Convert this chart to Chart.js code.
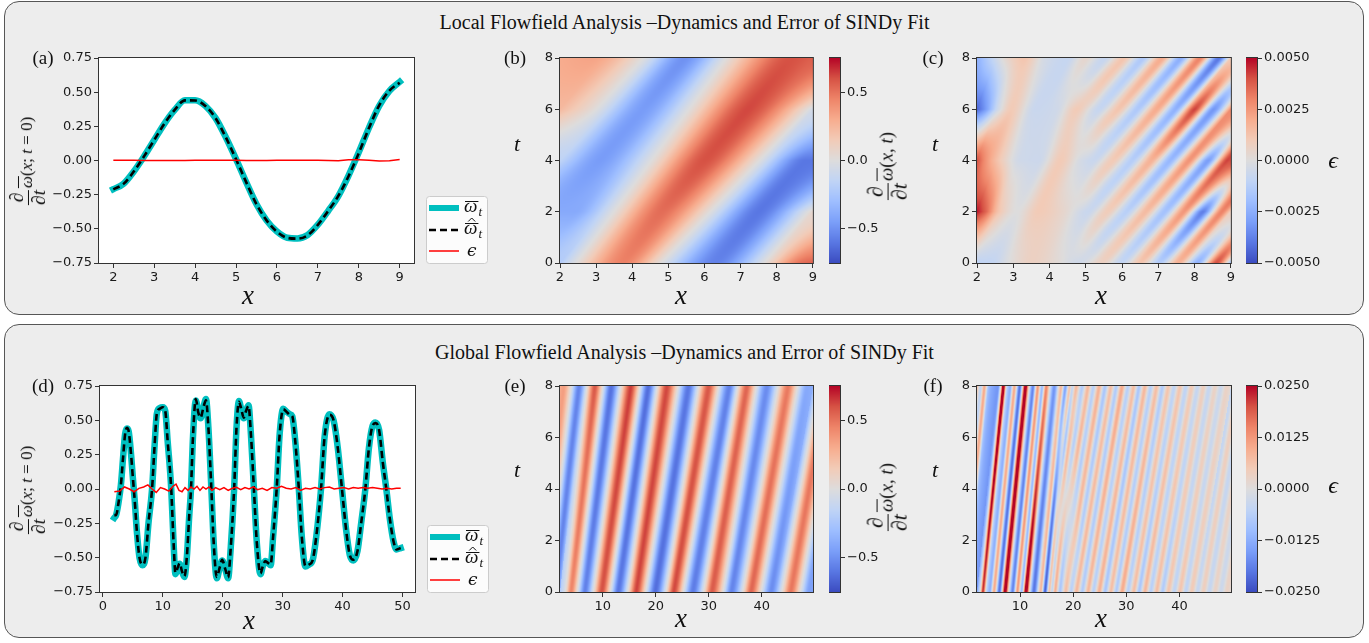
<!DOCTYPE html>
<html>
<head>
<meta charset="utf-8">
<title>SINDy fit</title>
<script src="https://cdn.jsdelivr.net/npm/chart.js@4.4.1/dist/chart.umd.min.js"></script>
<style>
  body { margin: 0; width: 1369px; height: 643px; position: relative; overflow: hidden; background: #fff; }
  .panel { position: absolute; left: 4px; width: 1360px; height: 314px; box-sizing: border-box; border: 1.3px solid #565656; border-radius: 15px; background: #ededed; }
  .title { position: absolute; left: 0; width: 1369px; text-align: center; font: 20px 'Liberation Serif', serif; color: #111; line-height: 24px; }
  .lbl { position: absolute; transform: translate(-50%, -50%); font-family: 'Liberation Serif', 'DejaVu Serif', serif; color: #111; white-space: nowrap; line-height: 1; }
  .lbl.rot { transform: translate(-50%, -50%) rotate(-90deg); }
  canvas { position: absolute; }
  .frac { display: inline-block; vertical-align: middle; text-align: center; font-size: 1.15em; margin-right: 2px; }
  .frac > span { display: block; line-height: 1.05; }
  .frac .num { border-bottom: 1px solid #111; padding: 0 2px; }
  .ov { display: inline-block; border-top: 1px solid #111; line-height: 0.8; padding-top: 1px; font-style: italic; }
</style>
</head>
<body>
<div class="panel" style="top:1px"></div>
<div class="panel" style="top:324px"></div>
<script>
// ---------------- data ----------------
const localTitle = 'Local Flowfield Analysis \u2013Dynamics and Error of SINDy Fit';
const globalTitle = 'Global Flowfield Analysis \u2013Dynamics and Error of SINDy Fit';

// (a) local profile at t = 0
const aX = [2.0,2.25,2.5,2.75,3.0,3.25,3.5,3.75,4.0,4.25,4.5,4.75,5.0,5.25,5.5,5.75,6.0,6.25,6.5,6.75,7.0,7.25,7.5,7.75,8.0,8.25,8.5,8.75,9.0];
const aOmega = [-0.21,-0.17,-0.08,0.03,0.15,0.27,0.37,0.44,0.44,0.40,0.31,0.17,0.01,-0.16,-0.32,-0.44,-0.52,-0.565,-0.57,-0.545,-0.47,-0.37,-0.26,-0.11,0.06,0.24,0.40,0.51,0.575];
const aOmegaFit = [-0.211,-0.171,-0.081,0.03,0.15,0.27,0.37,0.44,0.439,0.399,0.309,0.169,0.009,-0.16,-0.32,-0.44,-0.521,-0.566,-0.572,-0.547,-0.471,-0.37,-0.259,-0.115,0.054,0.238,0.404,0.512,0.569];
const aErr = [0.001,0.001,0.001,0.0,0.0,0.0,0.0,0.0,0.001,0.001,0.001,0.001,0.001,0.0,0.0,0.0,0.001,0.001,0.002,0.002,0.001,0.0,-0.001,0.005,0.006,0.002,-0.004,-0.002,0.007];

// (d) global profile at t = 0
const dX = [1.9,2.2,2.6,3.0,3.4,3.7,4.0,4.3,4.7,5.0,5.3,5.7,6.1,6.6,7.1,7.6,8.2,8.6,9.0,9.5,10.0,10.4,10.8,11.4,11.8,12.1,12.5,12.8,13.2,13.6,14.0,14.4,14.7,15.0,15.5,15.9,16.3,16.8,17.2,17.6,18.1,18.5,19.0,19.5,19.9,20.4,20.9,21.3,21.9,22.3,22.7,23.1,23.5,23.9,24.3,24.7,25.2,25.7,26.3,26.7,27.1,27.6,28.0,28.4,29.0,29.5,30.1,30.6,31.2,31.6,32.1,32.7,33.2,33.8,34.4,35.0,35.6,36.4,37.0,37.8,38.5,39.2,39.9,40.6,41.2,41.8,42.5,43.1,43.8,44.4,45.0,45.5,46.1,46.7,47.3,47.9,48.5,49.0,49.7];
const dOmega = [-0.21,-0.19,-0.10,0.03,0.25,0.40,0.44,0.42,0.25,0.08,-0.08,-0.33,-0.50,-0.555,-0.50,-0.25,0.00,0.30,0.55,0.59,0.595,0.57,0.35,0.00,-0.40,-0.62,-0.58,-0.545,-0.60,-0.64,-0.50,-0.20,0.00,0.35,0.645,0.57,0.515,0.60,0.655,0.45,0.00,-0.40,-0.65,-0.57,-0.52,-0.58,-0.65,-0.45,0.00,0.45,0.64,0.58,0.515,0.57,0.61,0.40,0.00,-0.40,-0.62,-0.56,-0.525,-0.54,-0.555,-0.35,0.00,0.40,0.585,0.565,0.545,0.53,0.35,0.00,-0.35,-0.565,-0.55,-0.52,-0.35,0.00,0.38,0.545,0.50,0.30,0.00,-0.30,-0.48,-0.52,-0.45,-0.25,0.00,0.30,0.46,0.485,0.43,0.20,0.00,-0.22,-0.38,-0.44,-0.43];
const dOmegaFit = [-0.19,-0.19,-0.10,0.03,0.25,0.40,0.445,0.42,0.25,0.08,-0.08,-0.33,-0.50,-0.55,-0.50,-0.25,0.00,0.30,0.55,0.585,0.595,0.57,0.35,0.00,-0.40,-0.61,-0.57,-0.54,-0.60,-0.635,-0.50,-0.20,0.00,0.35,0.655,0.56,0.52,0.60,0.645,0.45,0.00,-0.40,-0.64,-0.57,-0.515,-0.58,-0.645,-0.45,0.00,0.45,0.635,0.58,0.52,0.57,0.605,0.40,0.00,-0.40,-0.615,-0.56,-0.525,-0.54,-0.55,-0.35,0.00,0.40,0.58,0.565,0.54,0.53,0.35,0.00,-0.35,-0.56,-0.55,-0.52,-0.35,0.00,0.38,0.54,0.50,0.30,0.00,-0.30,-0.48,-0.515,-0.45,-0.25,0.00,0.30,0.46,0.48,0.43,0.20,0.00,-0.22,-0.38,-0.44,-0.43];
const dErrX = [1.9,2.8,3.6,4.4,5.2,6.0,6.8,7.5,8.2,8.9,9.6,10.3,11.0,11.7,12.2,12.7,13.2,13.7,14.2,14.7,15.2,15.7,16.2,16.7,17.2,17.7,18.2,18.8,19.5,20.2,20.9,21.6,22.3,23.0,23.7,24.4,25.1,25.8,26.6,27.4,28.2,29.0,29.8,30.6,31.4,32.2,33.0,33.8,34.6,35.4,36.2,37.0,37.8,38.6,39.4,40.2,41.0,41.8,42.6,43.4,44.2,45.0,45.8,46.6,47.4,48.2,49.0,49.7];
const dErr = [-0.02,-0.015,0.015,0.0,-0.02,0.005,0.015,0.03,0.0,-0.025,0.01,0.0,-0.015,0.02,0.035,-0.01,-0.02,0.01,-0.01,0.015,0.0,0.02,-0.01,0.015,0.0,0.015,-0.01,0.01,-0.005,0.01,-0.01,0.005,0.012,-0.005,0.01,0.0,0.015,-0.005,0.005,-0.01,0.01,0.005,0.02,0.005,0.0,0.01,-0.01,0.005,0.0,0.01,0.0,0.01,0.015,0.0,0.005,0.01,0.0,0.01,0.005,0.01,0.005,0.01,0.005,0.0,0.005,0.0,0.005,0.005];

// heat maps: rows of [x, value] read along t = const, drift = band tilt (x per unit t)
const bT = [0, 2, 4, 6, 8];
const bRows = [
  [[2,-0.21],[2.45,0],[3.75,0.46],[4.8,0],[6.3,-0.56],[7.65,0],[8.7,0.52],[9,0.55]],
  [[2,-0.40],[2.4,-0.40],[3.49,0],[4.8,0.52],[6.16,0],[7.5,-0.6],[8.87,0],[9,0.06]],
  [[2,-0.15],[3.1,-0.46],[4.53,0],[6.0,0.6],[7.52,0],[8.8,-0.6],[9,-0.6]],
  [[2,0.24],[3.01,0],[4.3,-0.46],[5.57,0],[7.2,0.62],[8.88,0],[9,-0.06]],
  [[2,0.30],[2.9,0.33],[4.3,0],[5.45,-0.5],[6.6,0],[8.4,0.6],[9,0.56]]
];
const bDrift = [[2,0.6],[9,0.6]];

const cT = [0, 2, 4, 6, 8];
const cRows = [
  [[2.0,-0.0010],[2.4,-0.0009],[2.9,0.0],[3.5,0.0007],[4.2,0.0002],[4.8,-0.0005],[5.45,0.0007],[5.975,-0.0009],[6.5,0.0012],[7.025,-0.0014],[7.55,0.0018],[8.075,-0.0024],[8.6,0.0040],[9.0,-0.0018]],
  [[2.0,0.0048],[2.25,0.0036],[2.6,0.0012],[3.1,0.0],[3.7,0.0010],[4.4,0.0004],[5.075,-0.0007],[5.6,0.0009],[6.125,-0.0012],[6.65,0.0015],[7.175,-0.0018],[7.7,0.0025],[8.225,-0.0038],[8.75,0.0030],[9.0,0.0008]],
  [[2.0,0.0040],[2.25,0.0026],[2.7,0.0008],[3.2,-0.0005],[3.7,-0.0006],[4.3,0.0010],[4.9,-0.0004],[5.225,-0.0007],[5.75,0.0010],[6.275,-0.0013],[6.8,0.0018],[7.325,-0.0022],[7.85,0.0026],[8.375,-0.0030],[8.9,0.0042],[9.0,0.0040]],
  [[2.0,-0.0044],[2.25,-0.0030],[2.6,-0.0004],[2.95,0.0010],[3.6,-0.0007],[4.2,-0.0005],[4.75,0.0010],[5.375,-0.0008],[5.9,0.0012],[6.425,-0.0015],[6.95,0.0020],[7.475,-0.0024],[8.0,0.0042],[8.525,-0.0032],[9.0,0.0028]],
  [[2.0,-0.0025],[2.4,-0.0010],[2.9,0.0006],[3.3,0.0012],[3.9,-0.0004],[4.5,-0.0008],[5.0,0.0004],[5.525,-0.0008],[6.05,0.0012],[6.575,-0.0015],[7.1,0.0020],[7.625,-0.0025],[8.15,0.0030],[8.675,-0.0040],[9.0,0.0010]]
];
const cDrift = [[2,0.25],[4.5,0.35],[5.5,0.6],[9,0.6]];

const eT = [0, 8];
const eRows = [
  [[1.9,-0.21],[2.9,0],[4.0,0.44],[5.2,0],[6.6,-0.56],[8.2,0],[9.8,0.6],[11.4,0],[12.9,-0.6],[14.7,0],[16.3,0.63],[18.1,0],[19.9,-0.63],[21.9,0],[23.4,0.62],[25.2,0],[27.0,-0.58],[29.0,0],[30.6,0.57],[32.7,0],[34.3,-0.55],[36.4,0],[38.0,0.54],[39.9,0],[41.8,-0.52],[43.8,0],[45.5,0.49],[47.3,0],[49.0,-0.44],[49.7,-0.43]],
  [[1.9,0.30],[2.6,0.35],[4.0,0],[5.5,-0.55],[7.0,0],[8.5,0.58],[10.0,0],[11.6,-0.62],[13.4,0],[15.3,0.64],[17.0,0],[18.6,-0.63],[20.3,0],[22.1,0.62],[24.2,0],[26.2,-0.60],[28.1,0],[30.0,0.58],[31.9,0],[33.9,-0.56],[35.5,0],[37.2,0.54],[39.0,0],[41.0,-0.52],[43.1,0],[45.0,0.48],[46.8,0],[48.6,-0.40],[49.7,-0.38]]
];
const eDrift = [[2,0.55],[10,0.65],[18,0.72],[26,0.8],[34,0.83],[45,0.87],[50,0.87]];

const fT = [0, 8];
const fRows = [
  [[1.9,-0.014],[2.5,0.0],[3.0,0.022],[3.7,-0.005],[4.3,-0.012],[5.1,0.010],[6.1,-0.020],[7.2,0.028],[7.9,0.0],[8.6,-0.018],[9.5,0.012],[10.3,-0.010],[11.1,0.030],[11.9,-0.004],[12.6,-0.020],[13.9,0.008],[14.7,-0.022],[15.5,0.006],[16.0,-0.004],[16.6,0.009],[17.5,-0.008],[18.6,0.007],[19.6,-0.006],[20.6,0.008],[21.7,-0.007],[22.8,0.008],[23.8,-0.006],[24.9,0.009],[26.0,-0.008],[27.1,0.007],[28.1,-0.007],[29.2,0.010],[30.3,-0.006],[31.4,0.007],[32.4,-0.008],[33.5,0.008],[34.6,-0.006],[35.7,0.007],[36.8,-0.007],[37.9,0.006],[39.0,-0.005],[40.1,0.006],[41.2,-0.005],[42.3,0.005],[43.4,-0.004],[44.5,0.004],[45.6,-0.004],[46.7,0.003],[47.8,-0.003],[48.9,0.003],[49.7,0.001]],
  [[1.9,0.008],[2.6,-0.005],[3.3,0.010],[4.1,-0.010],[4.9,-0.014],[5.85,-0.016],[6.35,0.0],[6.85,0.030],[7.55,-0.005],[8.15,-0.012],[8.95,0.010],[9.95,-0.020],[11.05,0.028],[11.75,0.0],[12.45,-0.018],[13.35,0.012],[14.15,-0.010],[14.95,0.014],[15.75,-0.004],[16.45,-0.016],[17.75,0.008],[18.55,-0.014],[19.35,0.006],[19.85,-0.004],[20.6,0.008],[21.7,-0.007],[22.8,0.008],[23.8,-0.006],[24.9,0.009],[26.0,-0.008],[27.1,0.007],[28.1,-0.007],[29.2,0.010],[30.3,-0.006],[31.4,0.007],[32.4,-0.008],[33.5,0.008],[34.6,-0.006],[35.7,0.007],[36.8,-0.007],[37.9,0.006],[39.0,-0.005],[40.1,0.006],[41.2,-0.005],[42.3,0.005],[43.4,-0.004],[44.5,0.004],[45.6,-0.004],[46.7,0.003],[47.8,-0.003],[48.9,0.003],[49.7,0.001]]
];
const fDrift = [[2,0.48],[16,0.48],[22,0.81],[50,0.81]];

// ticks
const lineYTicks = [-0.75,-0.5,-0.25,0,0.25,0.5,0.75];
const localXTicks = [2,3,4,5,6,7,8,9];
const globalLineXTicks = [0,10,20,30,40,50];
const globalMapXTicks = [10,20,30,40];
const tTicks = [0,2,4,6,8];
const fieldCbTicks = [-0.5,0,0.5];
const localErrCbTicks = [-0.005,-0.0025,0,0.0025,0.005];
const globalErrCbTicks = [-0.025,-0.0125,0,0.0125,0.025];

// ---------------- helpers ----------------
const coolwarmStops = [[59,76,192],[89,119,227],[123,159,249],[158,190,255],[192,212,245],[221,220,220],[242,203,183],[247,172,142],[238,132,104],[214,82,68],[180,4,38]];
function coolwarm(u) {
  u = Math.max(0, Math.min(1, u));
  const p = u * 10, i = Math.min(9, Math.floor(p)), f = p - i;
  const a = coolwarmStops[i], b = coolwarmStops[i + 1];
  return [a[0] + (b[0] - a[0]) * f, a[1] + (b[1] - a[1]) * f, a[2] + (b[2] - a[2]) * f];
}

function prepRow(knots) {
  const xs = knots.map(k => k[0]), ys = knots.map(k => k[1]), n = xs.length;
  const h = [], d = [], m = new Array(n);
  for (let k = 0; k < n - 1; k++) { h.push(xs[k + 1] - xs[k]); d.push((ys[k + 1] - ys[k]) / h[k]); }
  m[0] = d[0]; m[n - 1] = d[n - 2];
  for (let k = 1; k < n - 1; k++) {
    if (d[k - 1] * d[k] <= 0) m[k] = 0;
    else {
      const w1 = 2 * h[k] + h[k - 1], w2 = h[k] + 2 * h[k - 1];
      m[k] = (w1 + w2) / (w1 / d[k - 1] + w2 / d[k]);
    }
  }
  return { xs, ys, h, m };
}

function rowAt(r, x, clamp) {
  const xs = r.xs, n = xs.length;
  if (x < xs[0] || x > xs[n - 1]) {
    if (!clamp) return null;
    x = Math.max(xs[0], Math.min(xs[n - 1], x));
  }
  let lo = 0, hi = n - 2;
  while (lo < hi) { const mid = (lo + hi + 1) >> 1; if (xs[mid] <= x) lo = mid; else hi = mid - 1; }
  const k = lo, hk = r.h[k], s = (x - xs[k]) / hk;
  const s2 = s * s, s3 = s2 * s;
  return (2 * s3 - 3 * s2 + 1) * r.ys[k] + (s3 - 2 * s2 + s) * hk * r.m[k] +
         (-2 * s3 + 3 * s2) * r.ys[k + 1] + (s3 - s2) * hk * r.m[k + 1];
}

function driftAt(knots, x) {
  if (x <= knots[0][0]) return knots[0][1];
  for (let k = 0; k < knots.length - 1; k++) {
    if (x <= knots[k + 1][0]) {
      const f = (x - knots[k][0]) / (knots[k + 1][0] - knots[k][0]);
      return knots[k][1] + (knots[k + 1][1] - knots[k][1]) * f;
    }
  }
  return knots[knots.length - 1][1];
}

function fieldAt(f, x, t) {
  const ts = f.t; let k = 0;
  while (k < ts.length - 2 && t > ts[k + 1]) k++;
  const t0 = ts[k], t1 = ts[k + 1];
  const w = Math.min(1, Math.max(0, (t - t0) / (t1 - t0)));
  const d = driftAt(f.drift, x);
  const va = rowAt(f.rows[k], x - d * (t - t0), f.clamp);
  const vb = rowAt(f.rows[k + 1], x + d * (t1 - t), f.clamp);
  if (va === null && vb === null) return rowAt(f.rows[w < 0.5 ? k : k + 1], x, true);
  if (va === null) return vb;
  if (vb === null) return va;
  return va * (1 - w) + vb * w;
}

const fmt = dec => v => (v < 0 ? '\u2212' : '') + Math.abs(v).toFixed(dec);

function linAxis(min, max, ticks, f, size, isY, extra) {
  return Object.assign({
    type: 'linear', min, max,
    afterBuildTicks: s => { s.ticks = ticks.map(v => ({ value: v })); },
    afterFit: s => { if (isY) s.width = size; else s.height = size; },
    ticks: { callback: v => f(v), font: { family: 'DejaVu Sans', size: 13 }, color: '#1a1a1a', padding: 2, autoSkip: false, maxRotation: 0 },
    grid: { drawOnChartArea: false, drawTicks: true, tickLength: 5, color: '#333', lineWidth: 1 },
    border: { display: false }
  }, extra || {});
}

function makeCanvas(left, top, w, h) {
  const c = document.createElement('canvas');
  c.width = w; c.height = h;
  c.style.left = left + 'px'; c.style.top = top + 'px';
  c.style.width = w + 'px'; c.style.height = h + 'px';
  document.body.appendChild(c);
  return c;
}

function addLabel(html, cx, cy, size, extra) {
  const el = document.createElement('div');
  el.className = 'lbl' + (extra && extra.rot ? ' rot' : '');
  el.style.left = cx + 'px'; el.style.top = cy + 'px';
  el.style.fontSize = size + 'px';
  if (extra && extra.italic) el.style.fontStyle = 'italic';
  el.innerHTML = html;
  document.body.appendChild(el);
}

function addTitle(text, top) {
  const el = document.createElement('div');
  el.className = 'title'; el.style.top = top + 'px'; el.textContent = text;
  document.body.appendChild(el);
}

const framePlugin = {
  id: 'frame',
  afterDraw(chart) {
    const a = chart.chartArea, ctx = chart.ctx;
    ctx.save(); ctx.strokeStyle = '#333'; ctx.lineWidth = 1;
    ctx.strokeRect(a.left - 0.5, a.top - 0.5, a.right - a.left + 1, a.bottom - a.top + 1);
    ctx.restore();
  }
};

const whiteBg = {
  id: 'whiteBg',
  beforeDraw(chart) {
    const a = chart.chartArea;
    chart.ctx.save(); chart.ctx.fillStyle = '#fff';
    chart.ctx.fillRect(a.left, a.top, a.right - a.left, a.bottom - a.top);
    chart.ctx.restore();
  }
};

function drawOmega(ctx, x, y, hat) {
  ctx.font = 'italic 19px "Liberation Serif"';
  ctx.fillStyle = '#111'; ctx.textBaseline = 'alphabetic';
  const w = ctx.measureText('\u03c9').width;
  ctx.fillText('\u03c9', x, y + 4);
  ctx.strokeStyle = '#111'; ctx.lineWidth = 1; ctx.setLineDash([]);
  ctx.beginPath(); ctx.moveTo(x + 1, y - 6.5); ctx.lineTo(x + w + 1, y - 6.5); ctx.stroke();
  if (hat) {
    const cx = x + w / 2 + 1;
    ctx.beginPath(); ctx.moveTo(cx - 3.5, y - 8.5); ctx.lineTo(cx, y - 12); ctx.lineTo(cx + 3.5, y - 8.5); ctx.stroke();
  }
  ctx.font = 'italic 13px "Liberation Serif"';
  ctx.fillText('t', x + w + 1, y + 8);
}

const legendPlugin = {
  id: 'fitLegend',
  afterDraw(chart) {
    const a = chart.chartArea, ctx = chart.ctx;
    const bw = 61, bh = 67, bx = Math.round(a.right) + 12, by = Math.round(a.bottom) - bh;
    ctx.save();
    ctx.beginPath();
    if (ctx.roundRect) ctx.roundRect(bx + 0.5, by + 0.5, bw, bh, 3); else ctx.rect(bx + 0.5, by + 0.5, bw, bh);
    ctx.fillStyle = 'rgba(255,255,255,0.8)'; ctx.fill();
    ctx.strokeStyle = '#cccccc'; ctx.lineWidth = 1; ctx.stroke();
    const x0 = bx + 3, x1 = bx + 33, tx = bx + 38, ys = [by + 12, by + 34, by + 55];
    const handle = (y, color, lw, dash) => {
      ctx.beginPath(); ctx.setLineDash(dash); ctx.strokeStyle = color; ctx.lineWidth = lw;
      ctx.moveTo(x0, y); ctx.lineTo(x1, y); ctx.stroke(); ctx.setLineDash([]);
    };
    handle(ys[0], '#00bfbf', 6, []);
    handle(ys[1], '#000', 2.6, [7, 4]);
    handle(ys[2], '#ff0000', 1.5, []);
    drawOmega(ctx, tx, ys[0], false);
    drawOmega(ctx, tx, ys[1], true);
    ctx.font = 'italic 17px "DejaVu Serif"'; ctx.fillStyle = '#111';
    ctx.fillText('\u03f5', tx + 3, ys[2] + 5);
    ctx.restore();
  }
};

function heatmapPlugin(field, vmin, vmax) {
  return {
    id: 'heatmap',
    beforeDatasetsDraw(chart) {
      const a = chart.chartArea, xs = chart.scales.x, ys = chart.scales.y, ctx = chart.ctx;
      const L = Math.round(a.left), T = Math.round(a.top);
      const W = Math.round(a.right) - L, H = Math.round(a.bottom) - T;
      const img = ctx.createImageData(W, H);
      const xv = [];
      for (let i = 0; i < W; i++) xv.push(xs.getValueForPixel(L + i + 0.5));
      for (let j = 0; j < H; j++) {
        const t = ys.getValueForPixel(T + j + 0.5);
        for (let i = 0; i < W; i++) {
          const v = fieldAt(field, xv[i], t);
          const c = coolwarm((v - vmin) / (vmax - vmin));
          const idx = (j * W + i) * 4;
          img.data[idx] = c[0]; img.data[idx + 1] = c[1]; img.data[idx + 2] = c[2]; img.data[idx + 3] = 255;
        }
      }
      ctx.putImageData(img, L, T);
    }
  };
}

function colorbarPlugin() {
  return {
    id: 'colorbar',
    beforeDatasetsDraw(chart) {
      const a = chart.chartArea, ys = chart.scales.y, ctx = chart.ctx;
      const lo = ys.min, hi = ys.max;
      for (let y = Math.round(a.top); y < Math.round(a.bottom); y++) {
        const v = ys.getValueForPixel(y + 0.5);
        const c = coolwarm((v - lo) / (hi - lo));
        ctx.fillStyle = 'rgb(' + c.map(Math.round).join(',') + ')';
        ctx.fillRect(a.left, y, a.right - a.left, 1);
      }
    }
  };
}

const baseOptions = pad => ({
  responsive: false, animation: false, devicePixelRatio: 1, events: [],
  layout: { autoPadding: false, padding: pad },
  plugins: { legend: { display: false }, tooltip: { enabled: false } }
});

const pts = (xs, ys) => xs.map((x, i) => ({ x, y: ys[i] }));

// ---------------- charts ----------------
const YW = 70, XH = 30, TOPPAD = 12;

function lineChart(rect, xMin, xMax, xTicks, x, omega, fit, errX, err) {
  const R = 80;
  const c = makeCanvas(rect.l - YW, rect.t - TOPPAD, YW + rect.w + R, TOPPAD + rect.h + XH);
  new Chart(c, {
    type: 'line',
    data: { datasets: [
      { data: pts(errX, err), borderColor: '#ff0000', borderWidth: 1.5, pointRadius: 0, tension: 0, order: 1 },
      { data: pts(x, fit), borderColor: '#000000', borderWidth: 2.6, borderDash: [7, 4], pointRadius: 0, cubicInterpolationMode: 'monotone', order: 2 },
      { data: pts(x, omega), borderColor: '#00bfbf', borderWidth: 6.5, borderCapStyle: 'square', pointRadius: 0, cubicInterpolationMode: 'monotone', order: 3 }
    ] },
    options: Object.assign(baseOptions({ left: 0, top: TOPPAD, right: R, bottom: 0 }), {
      scales: {
        x: linAxis(xMin, xMax, xTicks, fmt(0), XH, false),
        y: linAxis(-0.75, 0.75, lineYTicks, fmt(2), YW, true)
      }
    }),
    plugins: [whiteBg, framePlugin, legendPlugin]
  });
}

function mapChart(rect, xMin, xMax, xTicks, field, vmin, vmax) {
  const R = 6;
  const c = makeCanvas(rect.l - YW, rect.t - TOPPAD, YW + rect.w + R, TOPPAD + rect.h + XH);
  new Chart(c, {
    type: 'scatter',
    data: { datasets: [{ data: [], pointRadius: 0 }] },
    options: Object.assign(baseOptions({ left: 0, top: TOPPAD, right: R, bottom: 0 }), {
      scales: {
        x: linAxis(xMin, xMax, xTicks, fmt(0), XH, false),
        y: linAxis(0, 8, tTicks, fmt(0), YW, true)
      }
    }),
    plugins: [heatmapPlugin(field, vmin, vmax), framePlugin]
  });
}

function colorbar(rect, vmin, vmax, ticks, dec) {
  const c = makeCanvas(rect.l, rect.t - TOPPAD, rect.w + YW, rect.h + 2 * TOPPAD);
  new Chart(c, {
    type: 'scatter',
    data: { datasets: [{ data: [], pointRadius: 0 }] },
    options: Object.assign(baseOptions({ left: 0, top: TOPPAD, right: 0, bottom: TOPPAD }), {
      scales: {
        x: { type: 'linear', display: false, min: 0, max: 1 },
        y: linAxis(vmin, vmax, ticks, fmt(dec), YW, true, { position: 'right' })
      }
    }),
    plugins: [colorbarPlugin(), framePlugin]
  });
}

const fieldSpec = (t, rows, drift, clamp) => ({ t, rows: rows.map(prepRow), drift, clamp });

addTitle(localTitle, 10);
addTitle(globalTitle, 340);

// top row
lineChart({ l: 99, t: 58, w: 315, h: 205 }, 1.65, 9.35, localXTicks, aX, aOmega, aOmegaFit, aX, aErr);
mapChart({ l: 560, t: 58, w: 253, h: 205 }, 2, 9, localXTicks, fieldSpec(bT, bRows, bDrift, true), -0.75, 0.75);
colorbar({ l: 829, t: 58, w: 11, h: 205 }, -0.75, 0.75, fieldCbTicks, 1);
mapChart({ l: 977, t: 58, w: 254, h: 205 }, 2, 9, localXTicks, fieldSpec(cT, cRows, cDrift, true), -0.005, 0.005);
colorbar({ l: 1246, t: 58, w: 11, h: 205 }, -0.005, 0.005, localErrCbTicks, 4);

// bottom row
lineChart({ l: 100, t: 386, w: 315, h: 206 }, -0.49, 52.09, globalLineXTicks, dX, dOmega, dOmegaFit, dErrX, dErr);
mapChart({ l: 560, t: 386, w: 253, h: 206 }, 1.9, 49.7, globalMapXTicks, fieldSpec(eT, eRows, eDrift, false), -0.75, 0.75);
colorbar({ l: 829, t: 386, w: 11, h: 206 }, -0.75, 0.75, fieldCbTicks, 1);
mapChart({ l: 977, t: 386, w: 254, h: 206 }, 1.9, 49.7, globalMapXTicks, fieldSpec(fT, fRows, fDrift, false), -0.025, 0.025);
colorbar({ l: 1246, t: 386, w: 11, h: 206 }, -0.025, 0.025, globalErrCbTicks, 4);

// ---------------- text labels ----------------
const dOmegaLabel = (args) => '<span class="frac"><span class="num">\u2202</span><span class="den">\u2202<i>t</i></span></span>' +
  '<span class="ov">\u03c9</span>(<i>x</i>' + args + ')';

[['(a)', 43, 57], ['(b)', 515, 57], ['(c)', 933, 57], ['(d)', 43, 385], ['(e)', 515, 385], ['(f)', 933, 385]]
  .forEach(p => addLabel(p[0], p[1], p[2], 19));

[[248, 295], [681, 295], [1101, 295], [249, 620], [681, 618], [1101, 618]]
  .forEach(p => addLabel('x', p[0], p[1], 27, { italic: true }));

[[517, 144], [935, 144], [517, 470], [935, 470]]
  .forEach(p => addLabel('t', p[0], p[1], 22, { italic: true }));

addLabel(dOmegaLabel('; <i>t</i> = 0'), 28, 161, 17, { rot: true });
addLabel(dOmegaLabel('; <i>t</i> = 0'), 28, 490, 17, { rot: true });
addLabel(dOmegaLabel(', <i>t</i>'), 888, 166, 19, { rot: true });
addLabel(dOmegaLabel(', <i>t</i>'), 888, 497, 19, { rot: true });
addLabel('\u03f5', 1333, 160, 24, { italic: true });
addLabel('\u03f5', 1333, 485, 24, { italic: true });
</script>
</body>
</html>
